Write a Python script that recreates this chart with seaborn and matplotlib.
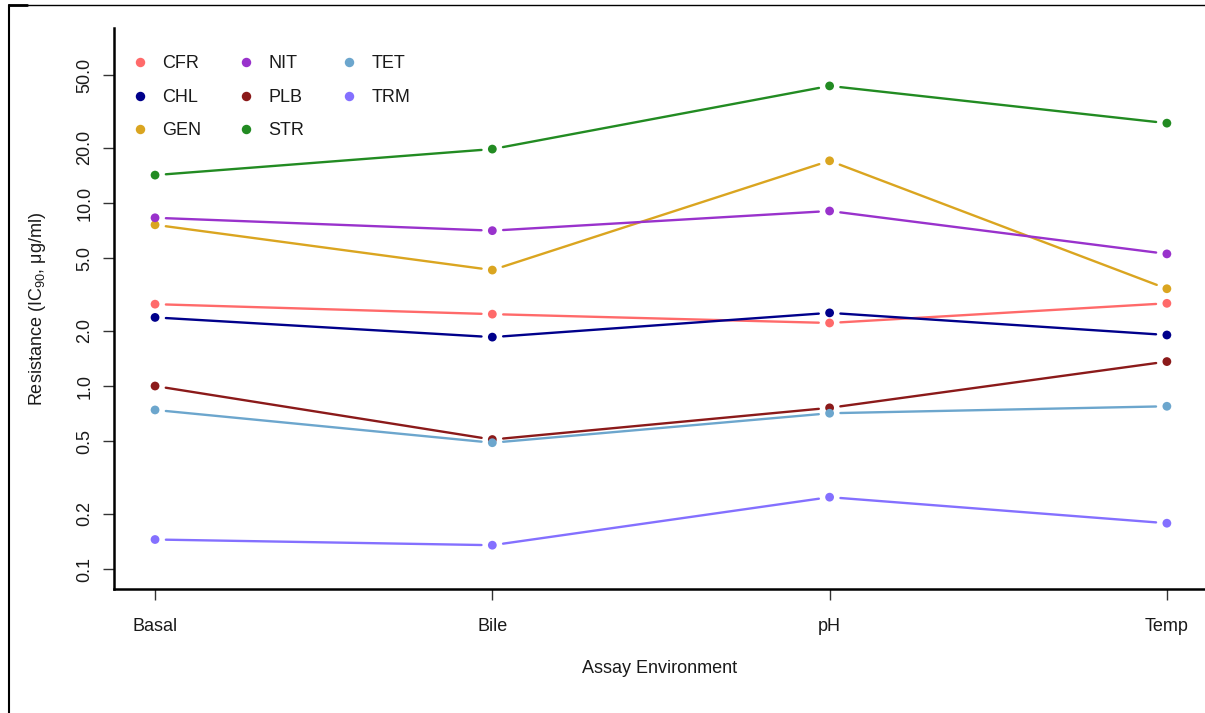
import matplotlib
matplotlib.use("Agg")
import matplotlib.pyplot as plt
import seaborn as sns
import pandas as pd
from matplotlib.lines import Line2D

# Assay environments (x categories) and antibiotics (series)
environments = ["Basal", "Bile", "pH", "Temp"]
drugs = ["CFR", "CHL", "GEN", "NIT", "PLB", "STR", "TET", "TRM"]

# IC90 values (µg/ml) per environment
cfr = [2.80, 2.47, 2.21, 2.83]
chl = [2.37, 1.85, 2.51, 1.90]
gen = [7.6, 4.3, 17.0, 3.4]
nit = [8.3, 7.06, 9.04, 5.27]
plb = [1.0, 0.51, 0.76, 1.36]
str_ = [14.2, 19.7, 43.6, 27.3]
tet = [0.74, 0.49, 0.71, 0.775]
trm = [0.145, 0.135, 0.247, 0.178]

drug_colors = ["#FF6A6A", "#00008B", "#DAA520", "#9932CC",
               "#8B1A1A", "#228B22", "#6CA6CD", "#8470FF"]
y_ticks = [0.1, 0.2, 0.5, 1.0, 2.0, 5.0, 10.0, 20.0, 50.0]
y_tick_labels = ["0.1", "0.2", "0.5", "1.0", "2.0", "5.0", "10.0", "20.0", "50.0"]

series = [cfr, chl, gen, nit, plb, str_, tet, trm]
rows = []
for drug, vals in zip(drugs, series):
    for i, (env, v) in enumerate(zip(environments, vals)):
        rows.append({"drug": drug, "env": env, "pos": i, "value": v})
df = pd.DataFrame(rows)
palette = dict(zip(drugs, drug_colors))

sns.set_style("ticks")
plt.rcParams["font.family"] = ["Liberation Sans", "DejaVu Sans"]
plt.rcParams["mathtext.default"] = "regular"

fig = plt.figure(figsize=(12.05, 7.13), dpi=100)
W, H = 1205, 713
ax = fig.add_axes([114 / W, (H - 589) / H, (1206 - 114) / W, (589 - 28) / H])

# Points
sns.scatterplot(data=df, x="pos", y="value", hue="drug", hue_order=drugs,
                palette=palette, s=40, linewidth=0, ax=ax, zorder=3, legend=False)

# Connecting segments with a small gap at each point (R type="b")
for drug in drugs:
    sub = df[df["drug"] == drug].sort_values("pos")
    xs, ys = sub["pos"].to_list(), sub["value"].to_list()
    for (x1, y1), (x2, y2) in zip(zip(xs[:-1], ys[:-1]), zip(xs[1:], ys[1:])):
        ax.annotate("", xy=(x2, y2), xytext=(x1, y1),
                    arrowprops=dict(arrowstyle="-", color=palette[drug], lw=1.7,
                                    shrinkA=7.8, shrinkB=7.8), zorder=2)

ax.set_yscale("log")
ax.set_ylim(10 ** -1.109, 10 ** 1.956)
ax.set_xlim(-0.1217, 3.116)
ax.set_yticks(y_ticks)
ax.set_yticklabels(y_tick_labels, rotation=90, va="center")
ax.minorticks_off()
ax.set_xticks(range(len(environments)))
ax.set_xticklabels(environments)

ax.tick_params(axis="both", labelsize=13, length=8, width=1, color="#333333",
               labelcolor="#1a1a1a")
ax.tick_params(axis="x", pad=13)
ax.tick_params(axis="y", pad=7)
for side in ["top", "right"]:
    ax.spines[side].set_visible(False)
for side in ["left", "bottom"]:
    ax.spines[side].set_linewidth(1.8)
    ax.spines[side].set_color("black")

ax.set_xlabel("Assay Environment", fontsize=13, labelpad=18, color="#1a1a1a")
ax.set_ylabel("Resistance (IC$_{90}$, μg/ml)", fontsize=13, labelpad=20, color="#1a1a1a")

# Legend: three columns, no frame
handles = [Line2D([], [], marker="o", linestyle="none", markersize=6.8,
                  markerfacecolor=palette[d], markeredgewidth=0) for d in drugs]
ax.legend(handles, drugs, ncol=3, loc="upper left", frameon=False,
          bbox_to_anchor=(0.0172, 0.951), borderpad=0, borderaxespad=0,
          handlelength=0.8, handletextpad=0.85, columnspacing=2.05,
          labelspacing=0.91, fontsize=13, labelcolor="#1a1a1a")

# Outer page frame (left and top edges)
fig.add_artist(Line2D([9 / W, 9 / W], [0, 1 - 5 / H], color="black", lw=1.5,
                      transform=fig.transFigure))
fig.add_artist(Line2D([8.5 / W, 1], [1 - 5 / H, 1 - 5 / H], color="black", lw=1.0,
                      transform=fig.transFigure))
fig.add_artist(Line2D([8.5 / W, 27 / W], [1 - 5 / H, 1 - 5 / H], color="black", lw=2.0,
                      transform=fig.transFigure))

fig.savefig("out.png", dpi=100)
